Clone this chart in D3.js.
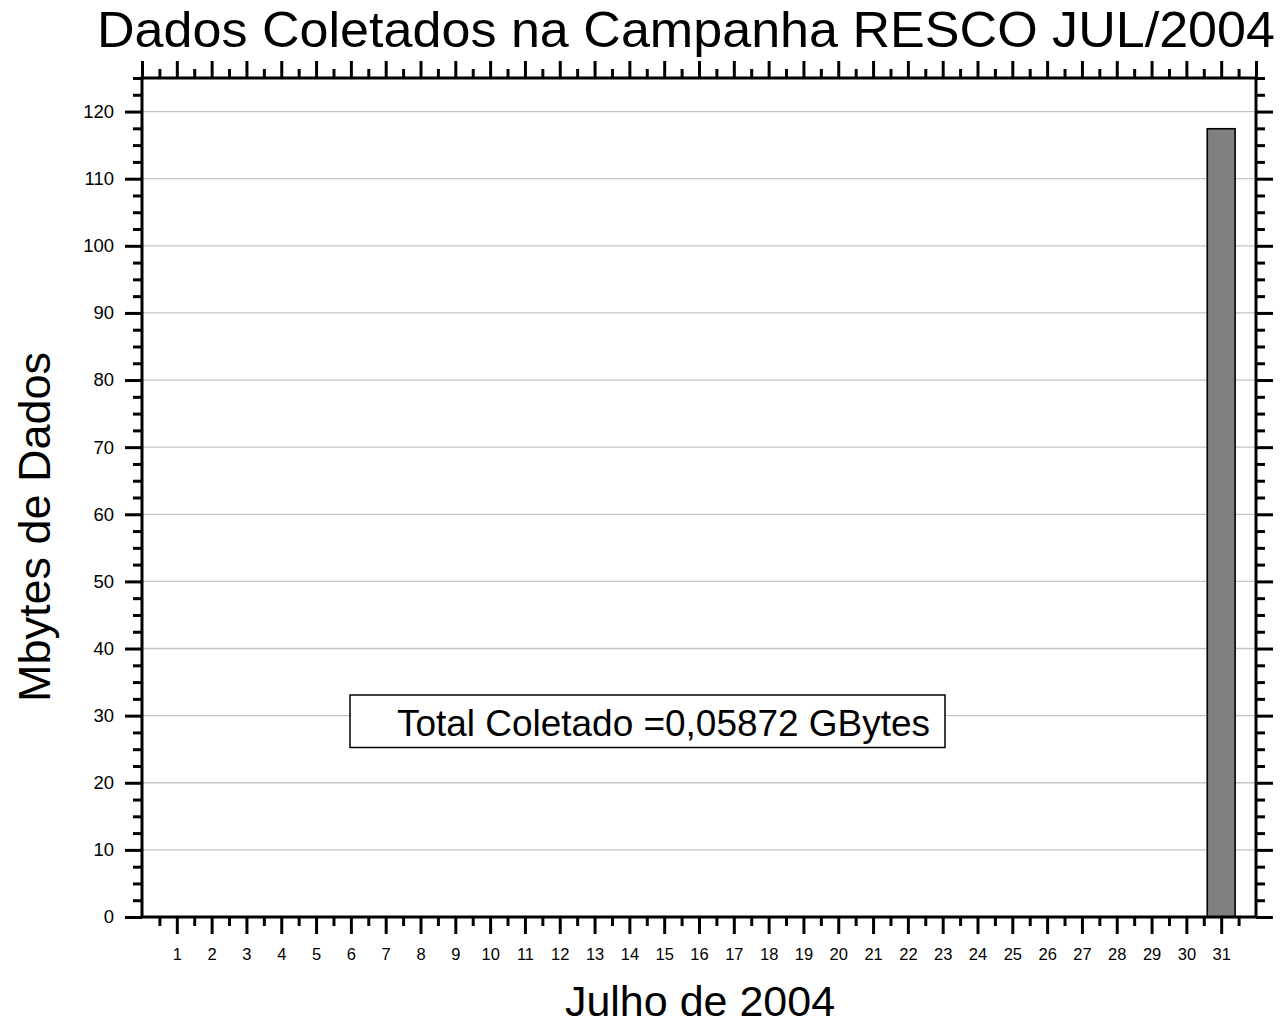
<!DOCTYPE html>
<html>
<head>
<meta charset="utf-8">
<script src="https://cdn.jsdelivr.net/npm/d3@7/dist/d3.min.js"></script>
<style>
  html, body { margin: 0; padding: 0; background: #ffffff; }
  svg { display: block; font-family: "Liberation Sans", Arial, sans-serif; }
</style>
</head>
<body>
<svg id="chart" width="1287" height="1024"></svg>
<script>
// ---- data ----
const days = d3.range(1, 32);                       // 1..31 de julho
const mbytes = [0,0,0,0,0,0,0,0,0,0,0,0,0,0,0,0,0,0,0,0,0,0,0,0,0,0,0,0,0,0,117.44];
const yTickValues = [0,10,20,30,40,50,60,70,80,90,100,110,120];
const xTickLabels = days.map(String);
const titleText = "Dados Coletados na Campanha RESCO JUL/2004";
const xLabelText = "Julho de 2004";
const yLabelText = "Mbytes de Dados";
const boxText = "Total Coletado =0,05872 GBytes";

(function () {
// ---- layout ----
const pLeft = 142, pRight = 1256, pTop = 78, pBottom = 917;
const svg = d3.select("#chart");

const x = d3.scaleLinear().domain([0, 32]).range([pLeft, pRight]);
const y = d3.scaleLinear().domain([0, 125]).range([pBottom, pTop]);

// gridlines
svg.append("g").selectAll("line")
  .data(yTickValues.filter(v => v > 0))
  .join("line")
  .attr("x1", pLeft).attr("x2", pRight)
  .attr("y1", d => y(d)).attr("y2", d => y(d))
  .attr("stroke", "#c4c4c4").attr("stroke-width", 1.3);

// bars
const barW = 0.8;
svg.append("g").selectAll("rect")
  .data(days.map((d, i) => ({day: d, v: mbytes[i]})).filter(d => d.v > 0))
  .join("rect")
  .attr("x", d => x(d.day - barW / 2))
  .attr("width", d => x(d.day + barW / 2) - x(d.day - barW / 2))
  .attr("y", d => y(d.v))
  .attr("height", d => y(0) - y(d.v))
  .attr("fill", "#808080")
  .attr("stroke", "#000")
  .attr("stroke-width", 1.6);

function styleAxis(g) {
  g.select(".domain").remove();
  g.selectAll(".tick line").attr("stroke", "#000").attr("stroke-width", 3);
}

const minorX = d3.range(0, 32).map(d => d + 0.5);
const minorY = d3.range(0, 126, 2.5).filter(v => v % 10 !== 0);

// bottom axis
const gb = svg.append("g").attr("transform", `translate(0,${pBottom})`)
  .call(d3.axisBottom(x).tickValues(days).tickSize(17).tickSizeOuter(0)
    .tickFormat((d, i) => xTickLabels[i]));
styleAxis(gb);
gb.selectAll(".tick text")
  .attr("y", 43).attr("dy", null)
  .attr("font-size", 16.5).attr("font-family", "Liberation Sans, Arial, sans-serif")
  .attr("fill", "#000");
const gbm = svg.append("g").attr("transform", `translate(0,${pBottom})`)
  .call(d3.axisBottom(x).tickValues(minorX).tickSize(9).tickSizeOuter(0).tickFormat(""));
styleAxis(gbm);

// top axis
const gt = svg.append("g").attr("transform", `translate(0,${pTop})`)
  .call(d3.axisTop(x).tickValues(d3.range(0, 33)).tickSize(17).tickSizeOuter(0).tickFormat(""));
styleAxis(gt);
const gtm = svg.append("g").attr("transform", `translate(0,${pTop})`)
  .call(d3.axisTop(x).tickValues(minorX).tickSize(9).tickSizeOuter(0).tickFormat(""));
styleAxis(gtm);

// left axis
const gl = svg.append("g").attr("transform", `translate(${pLeft},0)`)
  .call(d3.axisLeft(y).tickValues(yTickValues).tickSize(17).tickPadding(11).tickSizeOuter(0));
styleAxis(gl);
gl.selectAll(".tick text")
  .attr("font-size", 18.5).attr("font-family", "Liberation Sans, Arial, sans-serif")
  .attr("fill", "#000");
const glm = svg.append("g").attr("transform", `translate(${pLeft},0)`)
  .call(d3.axisLeft(y).tickValues(minorY).tickSize(9).tickSizeOuter(0).tickFormat(""));
styleAxis(glm);

// right axis
const gr = svg.append("g").attr("transform", `translate(${pRight},0)`)
  .call(d3.axisRight(y).tickValues(yTickValues).tickSize(17).tickSizeOuter(0).tickFormat(""));
styleAxis(gr);
const grm = svg.append("g").attr("transform", `translate(${pRight},0)`)
  .call(d3.axisRight(y).tickValues(minorY).tickSize(9).tickSizeOuter(0).tickFormat(""));
styleAxis(grm);

// frame
svg.append("rect")
  .attr("x", pLeft).attr("y", pTop)
  .attr("width", pRight - pLeft).attr("height", pBottom - pTop)
  .attr("fill", "none").attr("stroke", "#000").attr("stroke-width", 3);

// title
svg.append("text")
  .attr("x", 97).attr("y", 47)
  .attr("font-size", 50)
  .attr("textLength", 1178).attr("lengthAdjust", "spacingAndGlyphs")
  .attr("fill", "#000")
  .text(titleText);

// x label
svg.append("text")
  .attr("x", 700).attr("y", 1016)
  .attr("text-anchor", "middle")
  .attr("font-size", 43)
  .attr("fill", "#000")
  .text(xLabelText);

// y label
svg.append("text")
  .attr("transform", "translate(50,527) rotate(-90)")
  .attr("text-anchor", "middle")
  .attr("font-size", 45)
  .attr("fill", "#000")
  .text(yLabelText);

// annotation box
svg.append("rect")
  .attr("x", 350).attr("y", 695)
  .attr("width", 595).attr("height", 52.5)
  .attr("fill", "#fff").attr("stroke", "#000").attr("stroke-width", 1.5);
svg.append("text")
  .attr("x", 397).attr("y", 736)
  .attr("font-size", 37)
  .attr("textLength", 533).attr("lengthAdjust", "spacingAndGlyphs")
  .attr("fill", "#000")
  .text(boxText);
})();
</script>
</body>
</html>
